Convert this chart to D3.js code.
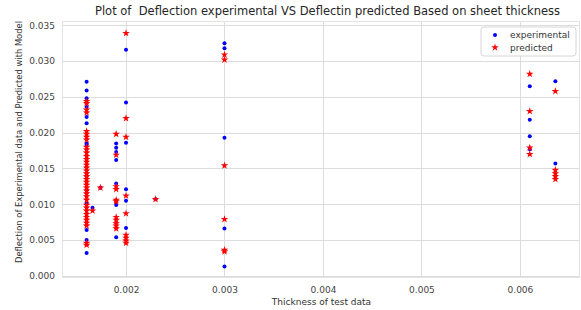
<!DOCTYPE html>
<html>
<head>
<meta charset="utf-8">
<script src="https://cdn.jsdelivr.net/npm/d3@7"></script>
<style>
	body { margin: 0; background: #fff; }
	svg { display: block; font-family: "DejaVu Sans", sans-serif; }
</style>
</head>
<body>
<div id="chart"></div>
<script>
// thickness columns (x) shared by both series
var thicknessCols = [0.0016, 0.00166, 0.00174, 0.0019, 0.002, 0.0023, 0.003, 0.0061, 0.00636];

// experimental deflection, one list per thickness column
var experimental = [
	[0.0271, 0.0259, 0.0248, 0.0236, 0.0222, 0.0213, 0.0185, 0.0183, 0.0140, 0.0120, 0.0101, 0.0064, 0.0050, 0.0032],
	[0.0095],
	[0.0123],
	[0.0185, 0.0179, 0.0173, 0.0162, 0.0129, 0.0099, 0.0054],
	[0.0316, 0.0242, 0.0186, 0.0121, 0.0105, 0.0067],
	[0.0107],
	[0.0325, 0.0318, 0.0193, 0.0066, 0.0013],
	[0.0265, 0.0218, 0.0195, 0.0177],
	[0.0272, 0.0157]
];

// predicted deflection, one list per thickness column
var predicted = [
	[0.0244, 0.0241, 0.0232, 0.0228, 0.0202, 0.0198, 0.0194, 0.0190, 0.0180, 0.0176, 0.0172, 0.0167,
	 0.0163, 0.0159, 0.0155, 0.0151, 0.0147, 0.0143, 0.0139, 0.0135, 0.0131, 0.0127, 0.0123, 0.0119,
	 0.0115, 0.0111, 0.0106, 0.0099, 0.0095, 0.0091, 0.0086, 0.0082, 0.0078, 0.0074, 0.0070, 0.0046, 0.0043],
	[0.0091],
	[0.0123],
	[0.0198, 0.0169, 0.0125, 0.0121, 0.0106, 0.0104, 0.0082, 0.0078, 0.0073, 0.0070, 0.0066],
	[0.0339, 0.0220, 0.0194, 0.0112, 0.0087, 0.0057, 0.0053, 0.0049, 0.0046],
	[0.0107],
	[0.0309, 0.0302, 0.0154, 0.0079, 0.0036, 0.0034],
	[0.0282, 0.0230, 0.0179, 0.0170],
	[0.0258, 0.0148, 0.0143, 0.0139, 0.0135]
];

var xTicks = [0.002, 0.003, 0.004, 0.005, 0.006];
var yTicks = [0, 0.005, 0.010, 0.015, 0.020, 0.025, 0.030, 0.035];

var W = 581, H = 310;
var margin = {top: 21, right: 1, bottom: 32, left: 62};

var svg = d3.select("#chart").append("svg")
	.attr("width", W)
	.attr("height", H);

var x = d3.scaleLinear().domain([0.00135, 0.00661]).range([margin.left, W - margin.right]);
var y = d3.scaleLinear().domain([-0.0003, 0.0356]).range([H - margin.bottom, margin.top]);

// flatten a per-column list into points
function toPoints(series)
{
	var pts = [];
	series.forEach(function (vals, i) {
		vals.forEach(function (v) { pts.push({x: thicknessCols[i], y: v}); });
	});
	return pts;
}

// grid
svg.append("g").selectAll("line.gx").data(xTicks).enter().append("line")
	.attr("x1", function (d) { return Math.round(x(d)) + 0.5; })
	.attr("x2", function (d) { return Math.round(x(d)) + 0.5; })
	.attr("y1", margin.top).attr("y2", H - margin.bottom)
	.attr("stroke", "#dcdcdc").attr("stroke-width", 1);

svg.append("g").selectAll("line.gy").data(yTicks).enter().append("line")
	.attr("y1", function (d) { return Math.round(y(d)) + 0.5; })
	.attr("y2", function (d) { return Math.round(y(d)) + 0.5; })
	.attr("x1", margin.left).attr("x2", W - margin.right)
	.attr("stroke", "#dcdcdc").attr("stroke-width", 1);

// frame
svg.append("rect")
	.attr("x", margin.left + 0.5).attr("y", margin.top + 0.5)
	.attr("width", W - margin.left - margin.right - 1)
	.attr("height", H - margin.top - margin.bottom - 1)
	.attr("fill", "none").attr("stroke", "#e3e3e3");

// axes (labels only, no tick marks)
var xAxis = svg.append("g")
	.attr("transform", "translate(0," + (H - margin.bottom) + ")")
	.call(d3.axisBottom(x).tickValues(xTicks).tickFormat(d3.format(".3f")).tickSize(0).tickPadding(9));
var yAxis = svg.append("g")
	.attr("transform", "translate(" + margin.left + ",0)")
	.call(d3.axisLeft(y).tickValues(yTicks).tickFormat(d3.format(".3f")).tickSize(0).tickPadding(7));
[xAxis, yAxis].forEach(function (a) {
	a.select(".domain").remove();
	a.selectAll("text").attr("fill", "#444").style("font-size", "9px").style("font-family", "DejaVu Sans");
});

// experimental points
svg.append("g").selectAll("circle").data(toPoints(experimental)).enter().append("circle")
	.attr("cx", function (d) { return x(d.x); })
	.attr("cy", function (d) { return y(d.y); })
	.attr("r", 2)
	.attr("fill", "#0000ff");

// predicted stars
var star = d3.symbol().type(d3.symbolStar).size(18);
svg.append("g").selectAll("path").data(toPoints(predicted)).enter().append("path")
	.attr("d", star)
	.attr("transform", function (d) { return "translate(" + x(d.x) + "," + y(d.y) + ")"; })
	.attr("fill", "#ff0000");

// title and axis labels
svg.append("text")
	.attr("x", (margin.left + W) / 2 + 6).attr("y", 15)
	.attr("text-anchor", "middle")
	.attr("fill", "#262626")
	.style("font-size", "11.5px")
	.style("white-space", "pre")
	.text("Plot of  Deflection experimental VS Deflectin predicted Based on sheet thickness");

svg.append("text")
	.attr("x", (margin.left + W) / 2).attr("y", 305)
	.attr("text-anchor", "middle")
	.attr("fill", "#333")
	.style("font-size", "9px")
	.text("Thickness of test data");

svg.append("text")
	.attr("transform", "translate(22,142) rotate(-90)")
	.attr("text-anchor", "middle")
	.attr("fill", "#333")
	.style("font-size", "8.4px")
	.text("Deflection of Experimental data and Predicted with Model");

// legend
var lg = svg.append("g").attr("transform", "translate(481,27)");
lg.append("rect")
	.attr("width", 95).attr("height", 29).attr("rx", 3)
	.attr("fill", "#fff").attr("fill-opacity", 0.85)
	.attr("stroke", "#d6d6d6");
lg.append("circle").attr("cx", 14).attr("cy", 8).attr("r", 2).attr("fill", "#0000ff");
lg.append("path").attr("d", star).attr("transform", "translate(14,20.5)").attr("fill", "#ff0000");
lg.append("text").attr("x", 29).attr("y", 11).attr("fill", "#333").style("font-size", "9px").text("experimental");
lg.append("text").attr("x", 29).attr("y", 23.5).attr("fill", "#333").style("font-size", "9px").text("predicted");
</script>
</body>
</html>
